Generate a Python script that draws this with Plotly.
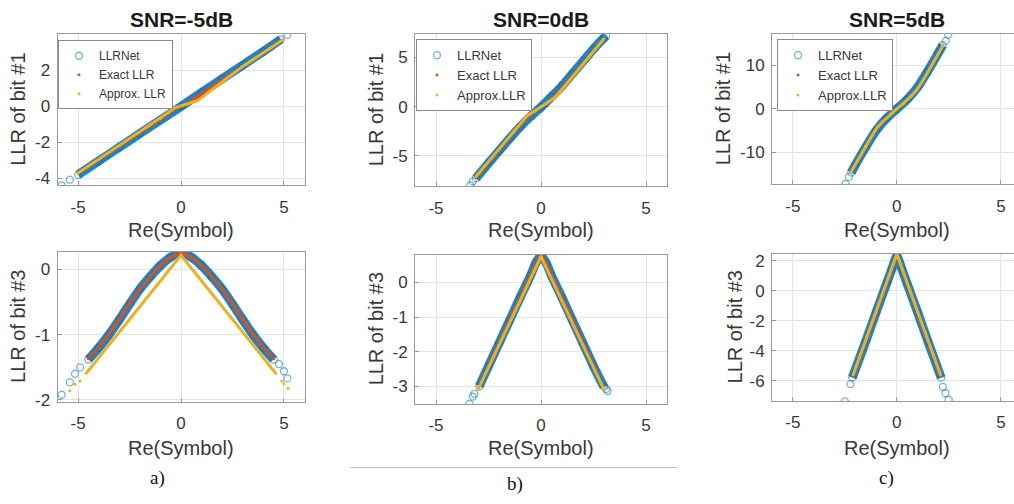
import plotly.graph_objects as go

W, H = 1014, 504

# ---------------- data ----------------
# (a) SNR=-5dB, LLR of bit #1
a1_net_x = [-5.8, -5.4, -5.0, -4.0, -3.0, -2.0, -1.0, 0.0, 1.0, 2.0, 3.0, 4.0, 4.85, 5.17]
a1_net_y = [-4.4, -4.09, -3.82, -3.05, -2.29, -1.53, -0.78, -0.02, 0.75, 1.51, 2.27, 3.03, 3.7, 3.95]
a1_exact_x = [-5.0, -3.0, -1.0, -0.4, 0.0, 0.4, 1.0, 3.0, 4.9]
a1_exact_y = [-3.72, -2.22, -0.72, -0.22, 0.0, 0.22, 0.7, 2.2, 3.66]
a1_approx_x = [-5.0, -3.0, -1.0, -0.6, -0.3, 0.3, 0.8, 3.0, 4.9]
a1_approx_y = [-3.72, -2.2, -0.7, -0.35, -0.1, 0.12, 0.3, 2.2, 3.64]

# (a) SNR=-5dB, LLR of bit #3
a3_net_x = [-5.8, -5.4, -5.15, -4.9, -4.5, -4.0, -3.5, -3.0, -2.5, -2.0, -1.5, -1.0, -0.5, 0.0,
            0.5, 1.0, 1.5, 2.0, 2.5, 3.0, 3.5, 4.0, 4.5, 4.76, 5.0, 5.17]
a3_net_y = [-1.92, -1.73, -1.6, -1.5, -1.38, -1.2, -1.0, -0.77, -0.53, -0.3, -0.11, 0.06, 0.19, 0.26,
            0.19, 0.06, -0.11, -0.3, -0.53, -0.77, -1.0, -1.2, -1.38, -1.45, -1.56, -1.67]
a3_exact_x = [-4.5, -4.0, -3.5, -3.0, -2.5, -2.0, -1.5, -1.0, -0.5, 0.0, 0.5, 1.0, 1.5, 2.0, 2.5, 3.0, 3.5, 4.0, 4.5]
a3_exact_y = [-1.37, -1.19, -0.99, -0.76, -0.52, -0.3, -0.11, 0.06, 0.19, 0.25, 0.19, 0.06, -0.11, -0.3, -0.52, -0.76, -0.99, -1.19, -1.37]
a3_approx_x = [-5.4, -5.15, -4.9, -4.6, 0.0, 4.6, 4.9, 5.0, 5.2]
a3_approx_y = [-1.86, -1.76, -1.71, -1.59, 0.22, -1.59, -1.71, -1.75, -1.82]

# (b) SNR=0dB, LLR of bit #1
b1_net_x = [-3.37, -3.25, -3.1, -2.5, -2.0, -1.5, -1.0, -0.5, 0.0, 0.5, 1.0, 1.5, 2.0, 2.5, 3.0, 3.1]
b1_net_y = [-8.0, -7.6, -7.3, -5.75, -4.5, -3.25, -2.05, -1.0, -0.05, 1.0, 2.1, 3.35, 4.6, 5.85, 7.0, 7.2]
b1_exact_x = [-3.1, -2.0, -1.0, -0.6, -0.3, 0.0, 0.3, 0.6, 1.0, 2.0, 3.0]
b1_exact_y = [-7.2, -4.4, -1.9, -1.0, -0.5, 0.0, 0.45, 0.95, 1.9, 4.4, 6.9]
b1_approx_x = [-3.1, -2.0, -1.0, -0.65, -0.3, 0.0, 0.3, 0.65, 1.0, 2.0, 3.0]
b1_approx_y = [-7.1, -4.3, -1.8, -0.9, -0.45, 0.0, 0.4, 0.9, 1.75, 4.3, 6.9]

# (b) SNR=0dB, LLR of bit #3
b3_net_x = [-3.41, -3.25, -3.17, -2.94, -2.5, -2.0, -1.5, -1.0, -0.5, -0.25, 0.0, 0.25, 0.5,
            1.0, 1.5, 2.0, 2.5, 3.0, 3.1, 3.17]
b3_net_y = [-3.51, -3.3, -3.22, -3.0, -2.42, -1.76, -1.1, -0.44, 0.2, 0.56, 0.79, 0.56, 0.2,
            -0.44, -1.1, -1.76, -2.42, -3.02, -3.08, -3.14]
b3_exact_x = [-2.95, -2.0, -1.0, -0.5, -0.2, 0.0, 0.2, 0.5, 1.0, 2.0, 2.95]
b3_exact_y = [-3.0, -1.75, -0.45, 0.2, 0.6, 0.78, 0.6, 0.2, -0.45, -1.75, -3.0]
b3_approx_x = [-3.0, -2.0, -1.0, 0.0, 1.0, 2.0, 3.0]
b3_approx_y = [-3.1, -1.82, -0.54, 0.75, -0.54, -1.82, -3.1]

# (c) SNR=5dB, LLR of bit #1
c1_net_x = [-2.47, -2.3, -2.19, -2.0, -1.5, -1.0, -0.5, 0.0, 0.5, 1.0, 1.5, 2.0, 2.2, 2.35, 2.47]
c1_net_y = [-17.2, -15.6, -14.6, -12.9, -8.8, -5.0, -2.2, 0.0, 2.2, 5.0, 8.8, 12.9, 14.6, 15.6, 17.0]
c1_exact_x = [-2.2, -1.5, -1.0, -0.6, -0.3, 0.0, 0.3, 0.6, 1.0, 1.5, 2.2]
c1_exact_y = [-14.5, -8.6, -4.7, -2.6, -1.2, 0.0, 1.2, 2.6, 4.7, 8.6, 14.5]
c1_approx_x = [-2.2, -1.5, -1.0, -0.7, -0.3, 0.0, 0.3, 0.7, 1.0, 1.5, 2.2]
c1_approx_y = [-14.4, -8.5, -4.6, -3.0, -1.2, 0.0, 1.2, 3.0, 4.6, 8.5, 14.4]

# (c) SNR=5dB, LLR of bit #3
c3_net_x = [-2.5, -2.23, -2.14, -1.5, -1.0, -0.5, -0.25, 0.0, 0.25, 0.5, 1.0, 1.5, 2.13, 2.21, 2.34, 2.49]
c3_net_y = [-7.38, -6.23, -5.8, -3.4, -1.45, 0.45, 1.4, 2.3, 1.4, 0.45, -1.45, -3.4, -5.8, -6.41, -6.84, -7.27]
c3_exact_x = [-2.1, -1.0, -0.3, 0.0, 0.3, 1.0, 2.1]
c3_exact_y = [-5.7, -1.5, 1.2, 2.25, 1.2, -1.5, -5.7]
c3_approx_x = [-2.1, -1.0, 0.0, 1.0, 2.1]
c3_approx_y = [-5.6, -1.4, 2.45, -1.4, -5.6]

# tick values / labels (MATLAB style hyphen-minus)
x_ticks = [-5, 0, 5]
x_ticktext = ["-5", "0", "5"]
a1_yticks = [-4, -2, 0, 2]
a1_yticktext = ["-4", "-2", "0", "2"]
b1_yticks = [-5, 0, 5]
b1_yticktext = ["-5", "0", "5"]
c1_yticks = [-10, 0, 10]
c1_yticktext = ["-10", "0", "10"]
a3_yticks = [-2, -1, 0]
a3_yticktext = ["-2", "-1", "0"]
b3_yticks = [-3, -2, -1, 0]
b3_yticktext = ["-3", "-2", "-1", "0"]
c3_yticks = [-6, -4, -2, 0, 2]
c3_yticktext = ["-6", "-4", "-2", "0", "2"]

titles = ["SNR=-5dB", "SNR=0dB", "SNR=5dB"]
ytitles = ["LLR of bit #1", "LLR of bit #3"]
xtitle = "Re(Symbol)"
series_names = ["LLRNet", "Exact LLR"]
approx_names = ["Approx. LLR", "Approx.LLR", "Approx.LLR"]
panel_labels = ["a)", "b)", "c)"]

# ---------------- styling ----------------
BLUE = "rgba(0,114,189,0.88)"
BLUE_M = "rgba(0,114,189,0.55)"
RED = "#D95319"
YEL = "#EDB120"
FONT = "Liberation Sans, Arial, sans-serif"
TXT = "#383838"


def px(x):
    return x / W


def py(y):
    return 1 - y / H


panels = [
    dict(net=(a1_net_x, a1_net_y), ex=(a1_exact_x, a1_exact_y), ap=(a1_approx_x, a1_approx_y),
         band=(2, 13), apband=(0, None), box=(57.5, 304.5, 33, 187), xr=[-6, 6], yr=[-4.4, 3.98],
         yt=(a1_yticks, a1_yticktext), col=0, row=0),
    dict(net=(b1_net_x, b1_net_y), ex=(b1_exact_x, b1_exact_y), ap=(b1_approx_x, b1_approx_y),
         band=(2, None), apband=(0, None), box=(415, 667, 33, 188), xr=[-6, 6], yr=[-8.1, 7.35],
         yt=(b1_yticks, b1_yticktext), col=1, row=0),
    dict(net=(c1_net_x, c1_net_y), ex=(c1_exact_x, c1_exact_y), ap=(c1_approx_x, c1_approx_y),
         band=(2, 13), apband=(0, None), box=(772, 1014, 33, 186), xr=[-6, 5.63], yr=[-17.3, 17.1],
         yt=(c1_yticks, c1_yticktext), col=2, row=0),
    dict(net=(a3_net_x, a3_net_y), ex=(a3_exact_x, a3_exact_y), ap=(a3_approx_x, a3_approx_y),
         band=(4, 23), apband=(3, 6), box=(57.5, 304.5, 255, 408), xr=[-6, 6], yr=[-2.03, 0.27],
         yt=(a3_yticks, a3_yticktext), col=0, row=1),
    dict(net=(b3_net_x, b3_net_y), ex=(b3_exact_x, b3_exact_y), ap=(b3_approx_x, b3_approx_y),
         band=(3, 18), apband=(0, None), box=(415, 667, 258, 410), xr=[-6, 6], yr=[-3.51, 0.8],
         yt=(b3_yticks, b3_yticktext), col=1, row=1),
    dict(net=(c3_net_x, c3_net_y), ex=(c3_exact_x, c3_exact_y), ap=(c3_approx_x, c3_approx_y),
         band=(2, 13), apband=(0, None), box=(772, 1014, 257, 407), xr=[-6, 5.63], yr=[-7.35, 2.45],
         yt=(c3_yticks, c3_yticktext), col=2, row=1),
]

legend_names = ["legend", "legend2", "legend3"]
# (left px, top px, font size)
legend_boxes = [(58, 39, 12), (416, 38, 13), (777, 38, 13)]

fig = go.Figure()
annotations = []
layout = {}

for i, p in enumerate(panels, start=1):
    xa, ya = f"x{i}", f"y{i}"
    leg = legend_names[p["col"]] if p["row"] == 0 else None
    show = leg is not None
    nx, ny = p["net"]
    b0, b1 = p["band"]
    ex_x, ex_y = p["ex"]
    ap_x, ap_y = p["ap"]
    a0, a1 = p["apband"]

    fig.add_trace(go.Scatter(x=nx[b0:b1], y=ny[b0:b1], mode="lines", xaxis=xa, yaxis=ya,
                             line=dict(color=BLUE, width=9, shape="spline", smoothing=0.6),
                             showlegend=False, hoverinfo="skip"))
    fig.add_trace(go.Scatter(x=nx, y=ny, mode="markers", xaxis=xa, yaxis=ya, name=series_names[0],
                             marker=dict(symbol="circle-open", size=7, color=BLUE_M, line=dict(width=1.3)),
                             showlegend=show, legend=leg if show else "legend"))
    fig.add_trace(go.Scatter(x=ex_x, y=ex_y, mode="lines", xaxis=xa, yaxis=ya,
                             line=dict(color=RED, width=3, shape="spline", smoothing=0.6),
                             showlegend=False, hoverinfo="skip"))
    fig.add_trace(go.Scatter(x=ex_x, y=ex_y, mode="markers", xaxis=xa, yaxis=ya, name=series_names[1],
                             marker=dict(symbol="circle", size=3, color=RED),
                             showlegend=show, legend=leg if show else "legend"))
    fig.add_trace(go.Scatter(x=ap_x[a0:a1], y=ap_y[a0:a1], mode="lines", xaxis=xa, yaxis=ya,
                             line=dict(color=YEL, width=3),
                             showlegend=False, hoverinfo="skip"))
    fig.add_trace(go.Scatter(x=ap_x, y=ap_y, mode="markers", xaxis=xa, yaxis=ya,
                             name=approx_names[p["col"]],
                             marker=dict(symbol="circle", size=3, color=YEL),
                             showlegend=show, legend=leg if show else "legend"))

    x0, x1, y0, y1 = p["box"]
    is_c = p["col"] == 2
    layout[f"xaxis{i}"] = dict(
        domain=[px(x0), min(px(x1), 1.0)], range=p["xr"], anchor=ya,
        tickmode="array", tickvals=x_ticks, ticktext=x_ticktext,
        showgrid=True, gridcolor="#E4E4E4", gridwidth=1, zeroline=False,
        showline=True, linecolor="#9A9A9A", linewidth=1, mirror=True,
        ticks="inside", ticklen=4, tickcolor="#9A9A9A",
        tickfont=dict(family=FONT, size=17, color=TXT), ticklabelstandoff=6)
    layout[f"yaxis{i}"] = dict(
        domain=[py(y1), py(y0)], range=p["yr"], anchor=xa,
        tickmode="array", tickvals=p["yt"][0], ticktext=p["yt"][1],
        showgrid=True, gridcolor="#E4E4E4", gridwidth=1, zeroline=False,
        showline=True, linecolor="#9A9A9A", linewidth=1, mirror=(False if is_c else True),
        ticks="inside", ticklen=4, tickcolor="#9A9A9A",
        tickfont=dict(family=FONT, size=17, color=TXT), ticklabelstandoff=3)

    cx = (x0 + x1) / 2 if not is_c else 897
    title_y = 233 if p["row"] == 0 else 455
    annotations.append(dict(text=xtitle, x=px(cx), y=py(title_y), xref="paper", yref="paper",
                            showarrow=False, xanchor="center", yanchor="middle",
                            font=dict(family=FONT, size=20, color=TXT)))
    ytx = {0: 18, 1: 376, 2: (723 if p["row"] == 0 else 735)}[p["col"]]
    annotations.append(dict(text=ytitles[p["row"]], x=px(ytx), y=py((y0 + y1) / 2), xref="paper",
                            yref="paper", showarrow=False, textangle=-90, xanchor="center",
                            yanchor="middle", font=dict(family=FONT, size=20, color=TXT)))

for t, cx in zip(titles, [181, 541, 897]):
    annotations.append(dict(text=f"<b>{t}</b>", x=px(cx), y=py(18), xref="paper", yref="paper",
                            showarrow=False, xanchor="center", yanchor="middle",
                            font=dict(family=FONT, size=21, color="#1a1a1a")))

for lab, (cx, cy) in zip(panel_labels, [(157, 486), (515, 492), (886, 486)]):
    annotations.append(dict(text=lab, x=px(cx), y=py(cy), xref="paper", yref="paper",
                            showarrow=False, xanchor="center", yanchor="middle",
                            font=dict(family="Liberation Serif, Times New Roman, serif", size=19,
                                      color="#111")))

for name, (lx, ly, fs) in zip(legend_names, legend_boxes):
    layout[name] = dict(x=px(lx), y=py(ly), xref="paper", yref="paper", xanchor="left", yanchor="top",
                        bgcolor="white", bordercolor="#8A8A8A", borderwidth=1,
                        font=dict(family=FONT, size=fs, color=TXT), itemwidth=30,
                        tracegroupgap=0)

fig.update_layout(
    width=W, height=H, margin=dict(l=0, r=0, t=0, b=0),
    paper_bgcolor="white", plot_bgcolor="white",
    annotations=annotations,
    shapes=[dict(type="line", xref="paper", yref="paper", x0=px(350), x1=px(677),
                 y0=py(475), y1=py(475), line=dict(color="#BDBDBD", width=1))],
    **layout)

fig.write_html("out.html", config={"displayModeBar": False},
               post_script="document.body.style.margin='0';document.body.style.overflow='hidden';")
